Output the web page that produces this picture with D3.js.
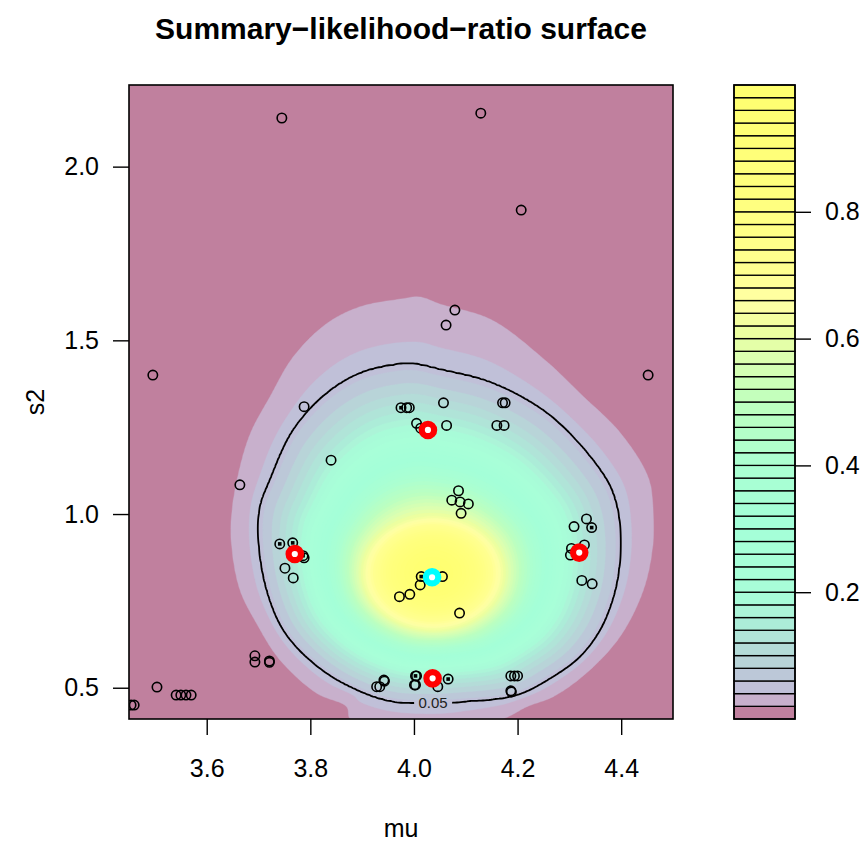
<!DOCTYPE html>
<html>
<head>
<meta charset="utf-8">
<script src="https://cdn.jsdelivr.net/npm/d3@7"></script>
<style>
body { margin: 0; background: #fff; }
text { font-family: "Liberation Sans", Arial, sans-serif; }
</style>
</head>
<body>
<script>
// ---- data ----
var xTicks = [3.6, 3.8, 4.0, 4.2, 4.4];
var yTicks = [0.5, 1.0, 1.5, 2.0];
var keyTicks = [0.2, 0.4, 0.6, 0.8];

// peak of the surface and semi-axes (mu, s2) of the ~0.62 core
var peak = [4.037, 0.830];
var core = [0.135, 0.163];

// 0.05 contour (the black line), read clockwise from upper left
var contour05 = [
  [3.832,1.348],[3.896,1.405],[3.960,1.429],[3.999,1.432],[4.050,1.416],[4.149,1.378],
  [4.248,1.300],[4.314,1.211],[4.374,1.093],[4.391,1.026],[4.398,0.954],[4.397,0.858],
  [4.385,0.762],[4.359,0.666],[4.320,0.589],[4.266,0.530],[4.198,0.479],[4.091,0.460],
  [4.037,0.456],[3.952,0.463],[3.864,0.513],[3.799,0.580],[3.748,0.666],[3.716,0.781],
  [3.700,0.925],[3.703,1.021],[3.722,1.098],[3.767,1.242]
];
// 0.02 contour (edge of the pink area)
var contour02 = [
  [3.767,1.453],[3.832,1.549],[3.896,1.597],[3.973,1.619],[4.012,1.625],[4.050,1.605],
  [4.149,1.560],[4.248,1.450],[4.327,1.339],[4.400,1.231],[4.453,1.103],[4.462,1.002],
  [4.461,0.906],[4.443,0.781],[4.398,0.647],[4.333,0.542],[4.269,0.474],[4.218,0.445],
  [4.172,0.410],[4.037,0.364],[3.877,0.410],[3.870,0.445],[3.812,0.484],[3.741,0.580],
  [3.696,0.685],[3.664,0.781],[3.648,0.906],[3.648,1.002],[3.661,1.117],[3.684,1.232],
  [3.722,1.338]
];
// radial profiles: [fraction of distance, likelihood ratio]
var innerProfile = [[0,1.0],[0.25,0.97],[0.5,0.89],[0.75,0.76],[1,0.62]];
var outerProfile = [[0,0.62],[0.17,0.47],[0.33,0.34],[0.5,0.23],[0.66,0.15],[0.83,0.09],[1,0.05]];
var tailProfile = [[0,0.05],[1,0.02],[1.4,0.0]];

// simulated points (open circles)
var simPoints = [
  [3.745,2.140],[4.129,2.154],[4.207,1.875],[3.496,1.400],[4.452,1.400],[4.079,1.587],
  [4.062,1.544],[3.788,1.309],[3.975,1.306],[3.986,1.306],[3.991,1.306],[4.057,1.320],
  [4.171,1.320],[4.176,1.320],[4.005,1.261],[4.013,1.247],[4.063,1.255],[4.160,1.255],
  [4.174,1.255],[3.840,1.155],[4.086,1.067],[4.073,1.040],[4.089,1.035],[4.105,1.029],
  [4.091,1.002],[4.333,0.986],[4.309,0.964],[4.343,0.961],[4.304,0.901],[4.329,0.911],
  [4.302,0.882],[4.324,0.809],[4.344,0.799],[3.741,0.914],[3.766,0.917],[3.786,0.880],
  [3.788,0.874],[3.751,0.844],[3.767,0.816],[4.014,0.820],[4.055,0.820],[4.012,0.796],
  [3.972,0.762],[3.992,0.769],[4.088,0.715],[3.693,0.592],[3.693,0.574],[3.721,0.577],
  [3.721,0.573],[3.928,0.503],[3.934,0.503],[3.942,0.522],[3.943,0.519],[4.003,0.534],
  [4.005,0.534],[4.001,0.508],[4.003,0.508],[4.046,0.503],[4.066,0.525],[4.187,0.534],
  [4.194,0.534],[4.200,0.534],[4.187,0.491],[4.188,0.488],[3.664,1.084],[3.504,0.502],
  [3.541,0.479],[3.550,0.479],[3.560,0.479],[3.570,0.479],[3.454,0.450],[3.460,0.450]
];
// circles that show a filled centre
var dotPoints = [
  [3.975,1.306],[4.343,0.961],[3.741,0.914],[3.766,0.917],[3.786,0.880],
  [4.014,0.820],[4.003,0.534],[4.066,0.525]
];
var redPoints = [[4.027,1.242],[3.770,0.885],[4.319,0.889],[4.036,0.527]];
var bestPoint = [4.035, 0.818];

// colour key: band lower bound -> colour
var paletteStops = [0,0.02,0.04,0.06,0.08,0.10,0.12,0.14,0.16,0.18,0.22,0.30,0.36,0.40,
  0.44,0.48,0.52,0.56,0.60,0.62,0.64,0.66,0.70,0.80,0.98];
var paletteColors = ["#c0809e","#c8b0cc","#c0c0d8","#bcc8d8","#b8d4d8","#b4dcd8","#b0e4d8",
  "#acecd8","#acf4d8","#a8fbd8","#a8ffd8","#a4ffd8","#a8ffd4","#acffd0","#b4ffc8","#bcffc0",
  "#ccffb8","#dcffb0","#ecffa0","#f4ffa0","#fcffa4","#ffffa0","#ffff90","#ffff80","#ffff70"];

var levels = d3.range(0, 51).map(function(i) { return i / 50; });

// ---- layout ----
var width = 867, height = 844;
var plotL = 129, plotR = 673, plotT = 85, plotB = 719;
var keyL = 734, keyR = 795;

var x = d3.scaleLinear().domain([3.45, 4.50]).range([plotL, plotR]);
var y = d3.scaleLinear().domain([0.41, 2.235]).range([plotB, plotT]);
var zKey = d3.scaleLinear().domain([0, 1]).range([plotB, plotT]);
var color = d3.scaleLinear().domain(paletteStops).range(paletteColors);

var svg = d3.select("body").append("svg")
    .attr("width", width)
    .attr("height", height);

var defs = svg.append("defs");
defs.append("clipPath").attr("id", "plotclip")
  .append("rect").attr("x", plotL).attr("y", plotT)
  .attr("width", plotR - plotL).attr("height", plotB - plotT);

// ---- surface ----
var cx = x(peak[0]), cy = y(peak[1]);
var coreA = x(peak[0] + core[0]) - cx;
var coreB = cy - y(peak[1] + core[1]);

// smooth closed curve through an outline, sampled as (angle, radius) around the peak
var outlineLine = d3.line()
    .curve(d3.curveCatmullRomClosed.alpha(0.5))
    .x(function(d) { return x(d[0]); })
    .y(function(d) { return y(d[1]); });
function polarTable(outline) {
  var tmp = svg.append("path").attr("d", outlineLine(outline)).attr("fill", "none");
  var node = tmp.node(), L = node.getTotalLength(), t = [];
  for (var k = 0; k < 720; k++) {
    var p = node.getPointAtLength(L * k / 720);
    var dx = p.x - cx, dy = p.y - cy;
    t.push([Math.atan2(dy, dx), Math.sqrt(dx * dx + dy * dy)]);
  }
  tmp.remove();
  t.sort(function(a, b) { return a[0] - b[0]; });
  var first = t[0], last = t[t.length - 1];
  t.unshift([last[0] - 2 * Math.PI, last[1]]);
  t.push([first[0] + 2 * Math.PI, first[1]]);
  return t;
}
var bis = d3.bisector(function(d) { return d[0]; }).right;
function radiusAt(t, a) {
  var i = bis(t, a);
  if (i < 1) i = 1;
  if (i > t.length - 1) i = t.length - 1;
  var p0 = t[i - 1], p1 = t[i];
  return p0[1] + (a - p0[0]) / (p1[0] - p0[0]) * (p1[1] - p0[1]);
}
function lookup(tab, v) {
  for (var k = 1; k < tab.length; k++) {
    if (v <= tab[k][0]) {
      var a = tab[k - 1], b = tab[k];
      return a[1] + (v - a[0]) / (b[0] - a[0]) * (b[1] - a[1]);
    }
  }
  return tab[tab.length - 1][1];
}

var t05 = polarTable(contour05), t02 = polarTable(contour02);
var step = 2;
var nx = Math.ceil((plotR - plotL) / step) + 2, ny = Math.ceil((plotB - plotT) / step) + 2;
var values = new Float64Array(nx * ny);
for (var j = 0; j < ny; j++) {
  for (var i = 0; i < nx; i++) {
    var px = plotL + i * step - cx, py = plotT + j * step - cy;
    var d = Math.sqrt(px * px + py * py), a = Math.atan2(py, px);
    var ca = Math.cos(a), sa = Math.sin(a);
    var K = 1 / Math.sqrt(ca * ca / (coreA * coreA) + sa * sa / (coreB * coreB));
    var R5 = radiusAt(t05, a), R2 = radiusAt(t02, a);
    var z;
    if (d <= K) z = lookup(innerProfile, d / K);
    else if (d <= R5) z = lookup(outerProfile, (d - K) / (R5 - K));
    else z = lookup(tailProfile, (d - R5) / (R2 - R5));
    values[j * nx + i] = z;
  }
}

var path = d3.geoPath(d3.geoIdentity().scale(step).translate([plotL - step / 2, plotT - step / 2]));

var surf = svg.append("g").attr("clip-path", "url(#plotclip)");
var bands = d3.contours().size([nx, ny]).thresholds(levels.slice(0, 50))(values);
surf.selectAll("path.band")
  .data(bands)
  .enter().append("path")
    .attr("class", "band")
    .attr("d", path)
    .attr("fill", function(c) { return color(c.value); })
    .attr("stroke", function(c) { return color(c.value); })
    .attr("stroke-width", 0.4);

// 0.05 contour line with gap for its label
var labelX = x(4.037), labelY = y(0.457);
var mask = defs.append("mask").attr("id", "gap");
mask.append("rect").attr("x", 0).attr("y", 0).attr("width", width).attr("height", height).attr("fill", "#fff");
mask.append("rect").attr("x", labelX - 19).attr("y", labelY - 8).attr("width", 38).attr("height", 16).attr("fill", "#000");

var line05 = d3.contours().size([nx, ny]).thresholds([0.05])(values);
surf.append("path")
  .datum(line05[0])
  .attr("d", path)
  .attr("fill", "none")
  .attr("stroke", "#000")
  .attr("stroke-width", 1.8)
  .attr("mask", "url(#gap)");
surf.append("text")
  .attr("x", labelX).attr("y", labelY + 5)
  .attr("text-anchor", "middle")
  .style("font-size", "15px")
  .attr("fill", "#222")
  .text("0.05");

// ---- points ----
var pts = svg.append("g").attr("clip-path", "url(#plotclip)");
pts.selectAll("circle.sim")
  .data(simPoints)
  .enter().append("circle")
    .attr("class", "sim")
    .attr("cx", function(d) { return x(d[0]); })
    .attr("cy", function(d) { return y(d[1]); })
    .attr("r", 4.7)
    .attr("fill", "none")
    .attr("stroke", "#000")
    .attr("stroke-width", 1.6);
pts.selectAll("rect.dot")
  .data(dotPoints)
  .enter().append("rect")
    .attr("class", "dot")
    .attr("x", function(d) { return x(d[0]) - 1.8; })
    .attr("y", function(d) { return y(d[1]) - 1.8; })
    .attr("width", 3.6).attr("height", 3.6)
    .attr("fill", "#000");
pts.selectAll("circle.red")
  .data(redPoints)
  .enter().append("circle")
    .attr("class", "red")
    .attr("cx", function(d) { return x(d[0]); })
    .attr("cy", function(d) { return y(d[1]); })
    .attr("r", 6.2)
    .attr("fill", "#fff")
    .attr("stroke", "#ff0000")
    .attr("stroke-width", 6.2);
pts.append("circle")
  .attr("cx", x(bestPoint[0]))
  .attr("cy", y(bestPoint[1]))
  .attr("r", 6.2)
  .attr("fill", "#fff")
  .attr("stroke", "#00ffff")
  .attr("stroke-width", 6.2);

// ---- frame and axes ----
svg.append("rect")
  .attr("x", plotL).attr("y", plotT)
  .attr("width", plotR - plotL).attr("height", plotB - plotT)
  .attr("fill", "none").attr("stroke", "#000").attr("stroke-width", 1.6);

function styleAxis(g) {
  g.select(".domain").remove();
  g.selectAll(".tick line").attr("stroke", "#000").attr("stroke-width", 1.4);
  g.selectAll(".tick text").attr("fill", "#000").style("font-size", "25px")
    .style("font-family", "'Liberation Sans', Arial, sans-serif");
}

svg.append("g")
  .attr("transform", "translate(0," + plotB + ")")
  .call(d3.axisBottom(x).tickValues(xTicks).tickSize(16).tickPadding(24).tickFormat(d3.format(".1f")))
  .call(styleAxis);
svg.append("g")
  .attr("transform", "translate(" + plotL + ",0)")
  .call(d3.axisLeft(y).tickValues(yTicks).tickSize(16).tickPadding(14).tickFormat(d3.format(".1f")))
  .call(styleAxis);

// ---- colour key ----
var key = svg.append("g");
key.selectAll("rect")
  .data(levels.slice(0, 50))
  .enter().append("rect")
    .attr("x", keyL)
    .attr("width", keyR - keyL)
    .attr("y", function(d) { return zKey(d + 0.02); })
    .attr("height", function(d) { return zKey(d) - zKey(d + 0.02); })
    .attr("fill", function(d) { return color(d); })
    .attr("stroke", "#000")
    .attr("stroke-width", 1.3);
key.append("rect")
  .attr("x", keyL).attr("y", plotT)
  .attr("width", keyR - keyL).attr("height", plotB - plotT)
  .attr("fill", "none").attr("stroke", "#000").attr("stroke-width", 1.6);
svg.append("g")
  .attr("transform", "translate(" + keyR + ",0)")
  .call(d3.axisRight(zKey).tickValues(keyTicks).tickSize(16).tickPadding(14).tickFormat(d3.format(".1f")))
  .call(styleAxis);

// ---- titles ----
svg.append("text")
  .attr("x", (plotL + plotR) / 2).attr("y", 38.5)
  .attr("text-anchor", "middle")
  .style("font-size", "30px").style("font-weight", "bold")
  .text("Summary\u2212likelihood\u2212ratio surface");
svg.append("text")
  .attr("x", (plotL + plotR) / 2).attr("y", 837)
  .attr("text-anchor", "middle")
  .style("font-size", "25px")
  .text("mu");
svg.append("text")
  .attr("transform", "translate(44," + (plotT + plotB) / 2 + ") rotate(-90)")
  .attr("text-anchor", "middle")
  .style("font-size", "25px")
  .text("s2");
</script>
</body>
</html>
